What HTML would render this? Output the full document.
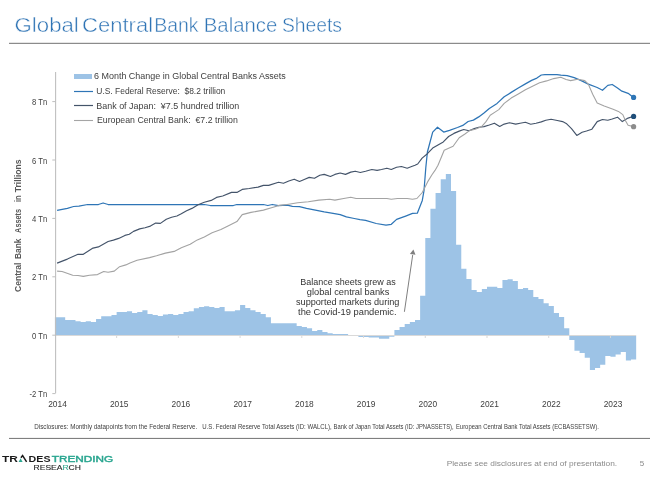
<!DOCTYPE html>
<html><head><meta charset="utf-8"><style>
html,body{margin:0;padding:0;background:#fff;}
body{width:661px;height:480px;overflow:hidden;position:relative;font-family:"Liberation Sans",sans-serif;}
svg{position:absolute;left:0;top:0;will-change:transform;}
</style></head><body>
<svg width="661" height="480" viewBox="0 0 661 480" font-family="Liberation Sans, sans-serif">
<g font-size="19.8" fill="#2f74b5" stroke="#ffffff" stroke-width="0.45"><text x="14.6" y="31.9" textLength="64.2" lengthAdjust="spacingAndGlyphs">Global</text><text x="82.1" y="31.9" textLength="71.0" lengthAdjust="spacingAndGlyphs">Central</text><text x="154.2" y="31.9" textLength="44.4" lengthAdjust="spacingAndGlyphs">Bank</text><text x="203.8" y="31.9" textLength="73.5" lengthAdjust="spacingAndGlyphs">Balance</text><text x="281.9" y="31.9" textLength="60.1" lengthAdjust="spacingAndGlyphs">Sheets</text></g>
<rect x="9" y="42.8" width="641" height="1.1" fill="#7f7f7f"/>
<path d="M54.90 317.20H60.04V335.20H54.90ZM60.04 317.20H65.19V335.20H60.04ZM65.19 320.00H70.33V335.20H65.19ZM70.33 320.00H75.48V335.20H70.33ZM75.48 321.20H80.62V335.20H75.48ZM80.62 322.10H85.76V335.20H80.62ZM85.76 321.20H90.91V335.20H85.76ZM90.91 322.10H96.05V335.20H90.91ZM96.05 319.00H101.20V335.20H96.05ZM101.20 316.30H106.34V335.20H101.20ZM106.34 316.30H111.48V335.20H106.34ZM111.48 315.00H116.63V335.20H111.48ZM116.63 312.10H121.77V335.20H116.63ZM121.77 312.10H126.92V335.20H121.77ZM126.92 311.20H132.06V335.20H126.92ZM132.06 313.00H137.20V335.20H132.06ZM137.20 312.10H142.35V335.20H137.20ZM142.35 310.20H147.49V335.20H142.35ZM147.49 314.10H152.64V335.20H147.49ZM152.64 315.00H157.78V335.20H152.64ZM157.78 316.00H162.92V335.20H157.78ZM162.92 314.50H168.07V335.20H162.92ZM168.07 314.10H173.21V335.20H168.07ZM173.21 315.00H178.36V335.20H173.21ZM178.36 314.10H183.50V335.20H178.36ZM183.50 312.10H188.64V335.20H183.50ZM188.64 311.20H193.79V335.20H188.64ZM193.79 308.20H198.93V335.20H193.79ZM198.93 307.10H204.08V335.20H198.93ZM204.08 306.20H209.22V335.20H204.08ZM209.22 307.10H214.36V335.20H209.22ZM214.36 308.00H219.51V335.20H214.36ZM219.51 307.10H224.65V335.20H219.51ZM224.65 311.20H229.80V335.20H224.65ZM229.80 311.20H234.94V335.20H229.80ZM234.94 310.20H240.08V335.20H234.94ZM240.08 305.10H245.23V335.20H240.08ZM245.23 308.00H250.37V335.20H245.23ZM250.37 310.20H255.52V335.20H250.37ZM255.52 312.10H260.66V335.20H255.52ZM260.66 314.10H265.80V335.20H260.66ZM265.80 317.20H270.95V335.20H265.80ZM270.95 323.20H276.09V335.20H270.95ZM276.09 323.20H281.24V335.20H276.09ZM281.24 323.20H286.38V335.20H281.24ZM286.38 323.20H291.52V335.20H286.38ZM291.52 323.20H296.67V335.20H291.52ZM296.67 326.00H301.81V335.20H296.67ZM301.81 327.10H306.96V335.20H301.81ZM306.96 328.20H312.10V335.20H306.96ZM312.10 331.00H317.24V335.20H312.10ZM317.24 330.00H322.39V335.20H317.24ZM322.39 332.10H327.53V335.20H322.39ZM327.53 333.20H332.68V335.20H327.53ZM332.68 334.00H337.82V335.20H332.68ZM337.82 334.00H342.96V335.20H337.82ZM342.96 334.00H348.11V335.20H342.96ZM358.40 335.20H363.54V337.00H358.40ZM363.54 335.20H368.68V337.00H363.54ZM368.68 335.20H373.83V337.50H368.68ZM373.83 335.20H378.97V337.50H373.83ZM378.97 335.20H384.12V338.70H378.97ZM384.12 335.20H389.26V338.70H384.12ZM389.26 335.20H394.40V336.80H389.26ZM394.40 330.00H399.55V335.20H394.40ZM399.55 326.90H404.69V335.20H399.55ZM404.69 324.00H409.84V335.20H404.69ZM409.84 321.90H414.98V335.20H409.84ZM414.98 320.00H420.12V335.20H414.98ZM420.12 295.80H425.27V335.20H420.12ZM425.27 237.90H430.41V335.20H425.27ZM430.41 208.75H435.56V335.20H430.41ZM435.56 193.10H440.70V335.20H435.56ZM440.70 179.20H445.84V335.20H440.70ZM445.84 174.00H450.99V335.20H445.84ZM450.99 191.00H456.13V335.20H450.99ZM456.13 244.80H461.28V335.20H456.13ZM461.28 268.80H466.42V335.20H461.28ZM466.42 278.90H471.56V335.20H466.42ZM471.56 289.90H476.71V335.20H471.56ZM476.71 291.90H481.85V335.20H476.71ZM481.85 289.00H487.00V335.20H481.85ZM487.00 286.80H492.14V335.20H487.00ZM492.14 286.80H497.28V335.20H492.14ZM497.28 287.90H502.43V335.20H497.28ZM502.43 280.00H507.57V335.20H502.43ZM507.57 279.20H512.72V335.20H507.57ZM512.72 280.90H517.86V335.20H512.72ZM517.86 289.00H523.00V335.20H517.86ZM523.00 287.90H528.15V335.20H523.00ZM528.15 290.10H533.29V335.20H528.15ZM533.29 297.10H538.44V335.20H533.29ZM538.44 298.90H543.58V335.20H538.44ZM543.58 303.20H548.72V335.20H543.58ZM548.72 306.00H553.87V335.20H548.72ZM553.87 312.90H559.01V335.20H553.87ZM559.01 317.10H564.16V335.20H559.01ZM564.16 328.30H569.30V335.20H564.16ZM569.30 335.20H574.44V340.00H569.30ZM574.44 335.20H579.59V350.80H574.44ZM579.59 335.20H584.73V352.90H579.59ZM584.73 335.20H589.88V357.70H584.73ZM589.88 335.20H595.02V370.00H589.88ZM595.02 335.20H600.16V367.90H595.02ZM600.16 335.20H605.31V364.80H600.16ZM605.31 335.20H610.45V356.00H605.31ZM610.45 335.20H615.60V356.70H610.45ZM615.60 335.20H620.74V354.60H615.60ZM620.74 335.20H625.88V351.90H620.74ZM625.88 335.20H631.03V360.60H625.88ZM631.03 335.20H636.17V359.60H631.03Z" fill="#9dc3e6"/>
<rect x="55" y="335" width="581" height="1" fill="#d9d9d9"/>
<path d="M116.63 335.2V338M178.36 335.2V338M240.08 335.2V338M301.81 335.2V338M363.54 335.2V338M425.27 335.2V338M487.00 335.2V338M548.72 335.2V338M610.45 335.2V338" stroke="#d9d9d9" stroke-width="1" fill="none"/>
<path d="M55.6 72V393.3" stroke="#bfbfbf" stroke-width="1.1" fill="none"/>
<path d="M52.3 101.60H55.5M52.3 160.00H55.5M52.3 218.40H55.5M52.3 276.80H55.5M52.3 335.20H55.5M52.3 393.60H55.5" stroke="#bfbfbf" stroke-width="1" fill="none"/>
<g font-size="8.6" fill="#404040" transform="translate(47.2 0) scale(0.89 1)"><text x="0" y="105.2" text-anchor="end">8 Tn</text><text x="0" y="163.6" text-anchor="end">6 Tn</text><text x="0" y="222.0" text-anchor="end">4 Tn</text><text x="0" y="280.4" text-anchor="end">2 Tn</text><text x="0" y="338.8" text-anchor="end">0 Tn</text><text x="0" y="397.2" text-anchor="end">-2 Tn</text></g>
<g font-size="8.4" fill="#404040"><text x="57.5" y="406.9" text-anchor="middle">2014</text><text x="119.2" y="406.9" text-anchor="middle">2015</text><text x="180.9" y="406.9" text-anchor="middle">2016</text><text x="242.7" y="406.9" text-anchor="middle">2017</text><text x="304.4" y="406.9" text-anchor="middle">2018</text><text x="366.1" y="406.9" text-anchor="middle">2019</text><text x="427.8" y="406.9" text-anchor="middle">2020</text><text x="489.6" y="406.9" text-anchor="middle">2021</text><text x="551.3" y="406.9" text-anchor="middle">2022</text><text x="613.0" y="406.9" text-anchor="middle">2023</text></g>
<g transform="translate(21.1 0) rotate(-90)" font-size="9" font-weight="bold" fill="#595959"><text x="-292.0" y="0" textLength="29.5" lengthAdjust="spacingAndGlyphs">Central</text><text x="-259.1" y="0" textLength="20.6" lengthAdjust="spacingAndGlyphs">Bank</text><text x="-232.9" y="0" textLength="24.0" lengthAdjust="spacingAndGlyphs">Assets</text><text x="-202.1" y="0" textLength="6.8" lengthAdjust="spacingAndGlyphs">in</text><text x="-192.3" y="0" textLength="32.8" lengthAdjust="spacingAndGlyphs">Trillions</text></g>
<polyline points="57.1,210.4 67.4,208.3 73.6,206.5 78.9,206.2 87.7,204.5 98.4,204.5 103.1,203.0 108.1,204.5 135.0,204.5 160.0,204.5 204.3,204.5 210.3,205.5 233.3,205.5 236.9,204.5 263.4,204.5 267.8,205.5 272.3,204.5 278.5,205.7 287.1,205.2 292.4,206.3 299.5,206.6 306.5,208.4 315.4,210.2 324.2,211.9 333.1,213.4 340.2,214.6 346.4,216.9 354.3,218.5 360.0,219.6 365.6,220.4 376.2,223.5 386.0,225.2 391.3,224.3 396.6,219.4 406.3,215.8 412.5,213.4 417.3,213.2 422.3,200.4 424.0,190.7 425.8,167.7 427.4,152.0 432.7,132.1 437.5,127.2 443.7,132.1 449.5,130.4 457.5,127.5 462.8,125.4 468.1,121.5 473.4,120.1 478.7,116.9 484.0,113.0 489.3,108.6 497.1,103.4 504.2,96.8 511.2,92.4 518.3,88.0 525.4,83.9 531.6,80.4 536.9,78.1 541.3,75.0 544.9,74.6 557.0,74.6 560.8,75.2 567.1,75.6 574.2,77.7 581.2,80.6 588.3,84.1 597.2,87.5 602.5,90.3 607.8,85.4 612.2,84.5 617.5,88.0 621.9,91.2 628.1,93.3 633.5,97.4" fill="none" stroke="#2e75b6" stroke-width="1.25" stroke-linejoin="round"/>
<polyline points="57.1,263.1 67.4,259.1 78.0,254.3 83.3,254.3 93.0,248.1 98.4,246.9 108.1,241.5 113.4,240.1 118.7,238.4 124.9,235.4 129.3,234.3 133.5,231.4 139.7,228.9 145.0,227.8 150.4,226.1 155.7,223.1 160.4,223.4 166.3,219.2 171.6,217.2 176.9,216.0 181.3,213.8 186.6,210.7 191.9,208.4 198.1,204.8 204.3,202.2 211.2,200.4 216.5,197.4 222.7,196.0 231.5,192.4 236.9,192.4 242.2,189.4 249.2,188.5 258.1,187.1 263.4,185.4 268.7,185.4 278.5,182.3 283.5,183.3 288.8,181.0 294.2,179.2 299.5,181.5 304.8,179.2 309.2,177.4 314.5,178.3 319.8,175.3 324.2,174.4 330.4,176.5 334.9,174.4 340.2,173.0 345.5,174.4 350.8,172.1 355.2,171.2 360.3,172.5 365.6,171.2 371.8,169.5 377.1,170.4 381.5,169.5 386.9,168.2 391.3,169.5 396.6,167.3 401.4,166.5 407.2,168.2 411.6,166.5 415.0,165.2 417.7,164.0 422.1,158.1 427.4,153.7 432.7,148.1 438.0,144.9 443.3,141.9 448.6,136.5 453.9,133.4 459.2,131.1 463.7,129.5 469.0,130.7 474.3,128.6 478.7,127.2 484.0,126.6 489.3,125.0 494.4,123.2 499.7,126.4 504.2,124.1 509.5,122.8 515.7,124.1 520.1,123.2 525.4,122.3 530.7,124.2 536.0,123.2 541.3,121.9 545.8,120.2 551.1,119.3 557.3,120.5 562.6,121.6 566.2,123.4 571.5,128.7 576.8,135.4 582.1,132.3 586.5,131.0 591.9,129.2 597.2,121.6 602.5,119.5 607.8,120.2 612.2,119.0 617.5,117.2 622.3,121.6 628.1,118.1 633.5,116.3" fill="none" stroke="#44546a" stroke-width="1.15" stroke-linejoin="round"/>
<polyline points="57.1,271.1 62.1,271.5 72.7,275.2 78.0,275.5 83.3,276.4 89.5,275.2 97.5,274.6 103.7,271.5 108.1,272.3 114.3,271.1 119.6,266.7 125.8,264.9 130.0,262.9 137.1,260.2 149.5,257.6 156.5,255.8 165.4,253.1 174.2,251.4 181.3,247.8 190.2,244.3 197.3,239.9 204.3,236.9 212.1,232.8 220.9,229.6 228.0,226.1 236.9,221.6 242.2,214.6 251.0,212.4 263.4,210.1 272.3,207.5 279.3,205.4 287.1,204.5 297.7,202.7 308.3,201.7 318.9,200.1 329.6,199.2 334.9,200.1 343.7,198.5 350.8,197.3 356.1,198.5 386.9,198.5 391.3,199.2 397.5,198.5 407.2,198.5 412.5,199.2 416.9,198.5 422.3,192.5 427.6,181.9 431.8,175.0 435.0,170.4 438.0,165.2 444.2,150.2 453.1,146.3 459.2,137.8 464.6,134.2 469.9,130.4 475.2,129.3 481.4,126.8 485.8,121.9 490.2,115.3 495.0,112.1 498.8,109.6 504.2,103.4 511.2,98.1 518.3,94.0 525.4,89.7 532.5,86.2 539.6,82.7 546.6,80.9 553.7,78.6 560.8,77.3 566.1,79.5 570.6,80.6 577.7,79.2 584.8,80.6 588.3,84.1 592.7,94.2 597.2,103.1 604.2,106.1 613.1,109.2 618.4,111.4 622.8,114.6 625.5,120.8 628.1,125.2 633.5,126.6" fill="none" stroke="#a3a3a3" stroke-width="1.1" stroke-linejoin="round"/>
<circle cx="633.6" cy="97.4" r="2.6" fill="#2e75b6"/>
<circle cx="633.6" cy="116.4" r="2.6" fill="#1f4e79"/>
<circle cx="633.6" cy="126.7" r="2.6" fill="#8c8c8c"/>
<rect x="74" y="74" width="18" height="5" fill="#9dc3e6"/>
<path d="M74 91.5H93" stroke="#2e75b6" stroke-width="1.2"/>
<path d="M74 105.5H93" stroke="#44546a" stroke-width="1.2"/>
<path d="M74 120.5H93" stroke="#a5a5a5" stroke-width="1.1"/>
<g font-size="8.4" fill="#404040">
<text x="94" y="79.3" textLength="191.8" lengthAdjust="spacingAndGlyphs">6 Month Change in Global Central Banks Assets</text>
<text x="96.3" y="94.4" textLength="129" lengthAdjust="spacingAndGlyphs">U.S. Federal Reserve:&#160; $8.2 trillion</text>
<text x="96.3" y="108.5" textLength="143" lengthAdjust="spacingAndGlyphs">Bank of Japan:&#160; ¥7.5 hundred trillion</text>
<text x="96.9" y="123" textLength="141" lengthAdjust="spacingAndGlyphs">European Central Bank:&#160; €7.2 trillion</text>
</g>
<g font-size="8.7" fill="#333333" text-anchor="middle">
<text x="348" y="285.4" textLength="95.3" lengthAdjust="spacingAndGlyphs">Balance sheets grew as</text>
<text x="348.1" y="295.3" textLength="82.6" lengthAdjust="spacingAndGlyphs">global central banks</text>
<text x="347.7" y="305.2" textLength="103.4" lengthAdjust="spacingAndGlyphs">supported markets during</text>
<text x="347.3" y="315.1" textLength="98.5" lengthAdjust="spacingAndGlyphs">the Covid-19 pandemic.</text>
</g>
<path d="M404.4 311.8L412.7 255" stroke="#7f7f7f" stroke-width="1"/>
<path d="M413.4 249.4L415.5 254.8L409.9 254.1Z" fill="#7f7f7f"/>
<g font-size="6.6" fill="#404040">
<text x="34.3" y="428.9" textLength="163" lengthAdjust="spacingAndGlyphs">Disclosures: Monthly datapoints from the Federal Reserve.</text>
<text x="202.3" y="428.9" textLength="129.5" lengthAdjust="spacingAndGlyphs">U.S. Federal Reserve Total Assets (ID: WALCL),</text>
<text x="333.6" y="428.9" textLength="120" lengthAdjust="spacingAndGlyphs">Bank of Japan Total Assets (ID: JPNASSETS),</text>
<text x="455.9" y="428.9" textLength="143" lengthAdjust="spacingAndGlyphs">European Central Bank Total Assets (ECBASSETSW).</text>
</g>
<rect x="9" y="437.9" width="641" height="1.1" fill="#7f7f7f"/>
<g font-weight="bold" font-size="9.1" fill="#1a1a1a">
<text x="1.9" y="461.8" textLength="15.9" lengthAdjust="spacingAndGlyphs">TR</text>
<text x="28.6" y="461.8" textLength="21.9" lengthAdjust="spacingAndGlyphs">DES</text>
</g>
<path d="M20.9 457.8L22.6 455.5L26.6 461.8" stroke="#1a1a1a" stroke-width="1.45" fill="none" stroke-linejoin="miter"/>
<path d="M18.6 461.9L20.6 458.3L22.6 461.9Z" fill="#2aa690"/>
<text x="51.8" y="461.8" font-size="9.1" fill="#2aa690" stroke="#2aa690" stroke-width="0.45" textLength="61.4" lengthAdjust="spacingAndGlyphs">TRENDING</text>
<text x="33.6" y="469.8" font-size="7.6" fill="#262626" stroke="#262626" stroke-width="0.12" textLength="47.3" lengthAdjust="spacingAndGlyphs">RESEA<tspan fill="#35a88f" stroke="#35a88f">R</tspan>CH</text>
<text x="446.7" y="466" font-size="8" fill="#8a8a8a" textLength="170.5" lengthAdjust="spacingAndGlyphs">Please see disclosures at end of presentation.</text>
<text x="639.8" y="466" font-size="8" fill="#8a8a8a">5</text>
</svg>
</body></html>
